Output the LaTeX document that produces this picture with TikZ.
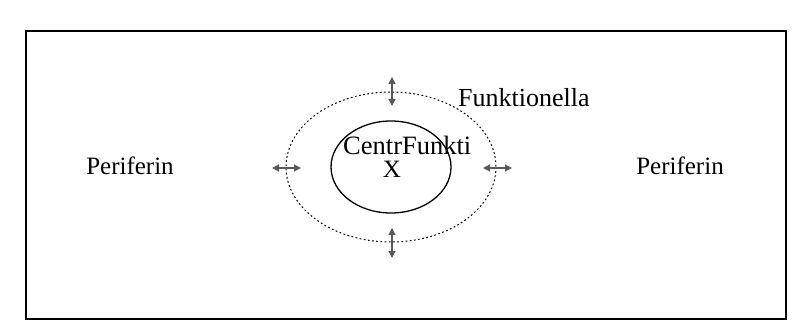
\documentclass[tikz,border=0pt]{standalone}
\usepackage{fontspec}
\setmainfont{Liberation Serif}
\tikzset{
	lbl/.style={inner sep=0pt,font=\fontsize{25}{27}\selectfont},
	twoway/.style={draw=black!65,line width=1.1pt,{Triangle[length=7pt,width=7pt]}-{Triangle[length=7pt,width=7pt]}}
}
\usetikzlibrary{arrows.meta}
\begin{document}
	\begin{tikzpicture}[x=1pt,y=-1pt]
		\useasboundingbox (0,0) rectangle (794,331);
		\draw[line width=1.3pt] (26,31) rectangle (786,319);
		\coordinate (O) at (391,167);
		\draw[line width=1pt,dash pattern=on 1.8pt off 2.4pt] (O) ellipse [x radius=105,y radius=75];
		\draw[line width=1.3pt] (O) ellipse [x radius=60,y radius=46];
		\coordinate (T1) at (392,77);
		\coordinate (T2) at (392,106);
		\coordinate (B1) at (392,228);
		\coordinate (B2) at (392,258);
		\coordinate (L1) at (272,168);
		\coordinate (L2) at (301,168);
		\coordinate (R1) at (483,168);
		\coordinate (R2) at (512,168);
		\draw[twoway] (T1) to (T2);
		\draw[twoway] (B1) to (B2);
		\draw[twoway] (L1) to (L2);
		\draw[twoway] (R1) to (R2);
		\node[lbl,anchor=base west,font=\fontsize{26.5}{28}\selectfont] (centr) at (343,154) {CentrFunkti};
		\node[lbl,anchor=base] (x) at (392,178) {X};
		\node[lbl,anchor=base west,font=\fontsize{26}{28}\selectfont] (funk) at (458,107) {Funktionella};
		\node[lbl,anchor=base] (perL) at (130,175) {Periferin};
		\node[lbl,anchor=base] (perR) at (680,175) {Periferin};
	\end{tikzpicture}
\end{document}
